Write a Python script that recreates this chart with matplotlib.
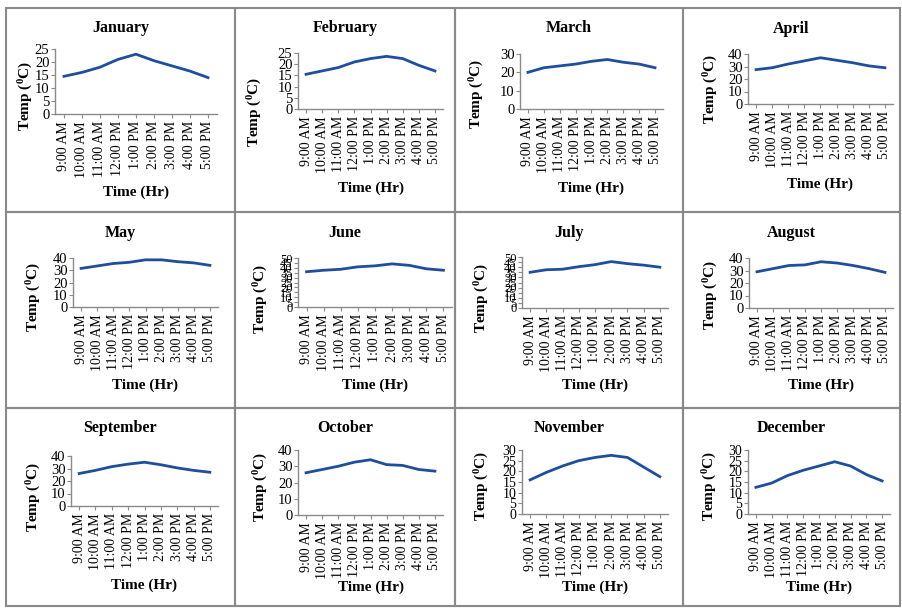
import numpy as np
import matplotlib.pyplot as plt
from matplotlib.patches import Rectangle

plt.rcParams['font.family'] = ['Liberation Serif', 'DejaVu Serif']
plt.rcParams['mathtext.fontset'] = 'custom'
plt.rcParams['mathtext.rm'] = 'Liberation Serif:bold'
plt.rcParams['mathtext.bf'] = 'Liberation Serif:bold'

# data
times = ["9:00 AM", "10:00 AM", "11:00 AM", "12:00 PM", "1:00 PM",
         "2:00 PM", "3:00 PM", "4:00 PM", "5:00 PM"]
months = ["January", "February", "March", "April", "May", "June",
          "July", "August", "September", "October", "November", "December"]

jan = [14.5, 16, 18, 21, 23, 20.5, 18.5, 16.5, 14]
feb = [15.5, 17, 18.5, 21, 22.5, 23.5, 22.5, 19.5, 17]
mar = [20, 22.5, 23.5, 24.5, 26, 27, 25.5, 24.5, 22.5]
apr = [27.5, 29, 32, 34.5, 37, 35, 33, 30.5, 29]
may = [31.5, 33.5, 35.5, 36.5, 38.5, 38.5, 37, 36, 34]
jun = [36, 37.5, 38.5, 41, 42, 44, 42.5, 39, 37.5]
jul = [35, 37.5, 38, 40.5, 42.5, 45.5, 43.5, 42, 40]
aug = [29, 31.5, 34, 34.5, 37, 36, 34, 31.5, 28.5]
sep = [26, 28.5, 31.5, 33.5, 35, 33, 30.5, 28.5, 27]
octo = [26, 28, 30, 32.5, 34, 31, 30.5, 28, 27]
nov = [16, 19.5, 22.5, 25, 26.5, 27.5, 26.5, 22, 17.5]
dec = [12.5, 14.5, 18, 20.5, 22.5, 24.5, 22.5, 18.5, 15.5]
series = [jan, feb, mar, apr, may, jun, jul, aug, sep, octo, nov, dec]

# y axis max and step per month
ymax = [25, 25, 30, 40, 40, 50, 50, 40, 40, 40, 30, 30]
ystep = [5, 5, 10, 10, 10, 5, 5, 10, 10, 10, 5, 5]

W, H = 903, 608
fig = plt.figure(figsize=(W / 100, H / 100), dpi=100)
fig.patch.set_facecolor('white')

# layout in pixels
cols = [(6, 235), (235, 455), (455, 683), (683, 900)]
rows = [(8, 212), (212, 408), (408, 606)]
# plot area: left, right, top, bottom
areas = [(55, 217, 49, 114), (298, 443, 53, 109), (520, 663, 54, 109), (748, 893, 54, 104),
         (73, 218, 258, 307), (298, 452, 258, 307), (522, 668, 257, 308), (749, 893, 258, 308),
         (71, 218, 456, 506), (298, 443, 450, 515), (522, 668, 450, 514), (748, 890, 450, 514)]
ylab_pos = [(26, 96), (255, 112), (477, 94), (711, 89),
            (34, 297), (261, 299), (482, 298), (711, 295),
            (34, 497), (261, 487), (482, 486), (710, 486)]
title_y = [28, 28, 28, 29, 233, 233, 233, 233, 428, 428, 428, 428]
xlab_y = [192, 188, 188, 184, 385, 385, 385, 385, 585, 587, 587, 587]
ytick_fs = [10.5, 10.5, 10.5, 10.5, 10.5, 9, 9, 10.5, 10.5, 10.5, 10, 10]

for i, (name, vals) in enumerate(zip(months, series)):
    r, c = divmod(i, 4)
    bx0, bx1 = cols[c]
    by0, by1 = rows[r]
    fig.patches.append(Rectangle((bx0 / W, 1 - by1 / H), (bx1 - bx0) / W, (by1 - by0) / H,
                                 transform=fig.transFigure, fill=False,
                                 edgecolor='#8a8a8a', lw=1.5))

    x0, x1, y0, y1 = areas[i]
    ax = fig.add_axes([x0 / W, 1 - y1 / H, (x1 - x0) / W, (y1 - y0) / H])
    ax.plot(range(len(times)), vals, color='#1f4e9c', lw=2)
    ax.set_xlim(-0.5, len(times) - 0.5)
    ax.set_ylim(0, ymax[i])
    ax.set_yticks(np.arange(0, ymax[i] + 1, ystep[i]))
    ax.set_xticks(range(len(times)))
    ax.set_xticklabels(times, rotation=90, fontsize=10)
    ax.tick_params(axis='y', labelsize=ytick_fs[i], length=3, pad=1, color='#8a8a8a')
    ax.tick_params(axis='x', length=3, pad=2, color='#8a8a8a')
    for s in ['top', 'right']:
        ax.spines[s].set_visible(False)
    for s in ['left', 'bottom']:
        ax.spines[s].set_color('#8a8a8a')
        ax.spines[s].set_linewidth(1)

    fig.text((bx0 + bx1) / 2 / W, 1 - title_y[i] / H, name, ha='center', va='center',
             fontsize=11.5, fontweight='bold')
    fig.text((x0 + x1) / 2 / W, 1 - xlab_y[i] / H, 'Time (Hr)', ha='center', va='center',
             fontsize=11, fontweight='bold')
    lx, ly = ylab_pos[i]
    fig.text(lx / W, 1 - ly / H, r'Temp ($\mathregular{^0}$C)', ha='center', va='center',
             rotation=90, fontsize=11, fontweight='bold')

fig.savefig('out.png', dpi=100, facecolor='white')
